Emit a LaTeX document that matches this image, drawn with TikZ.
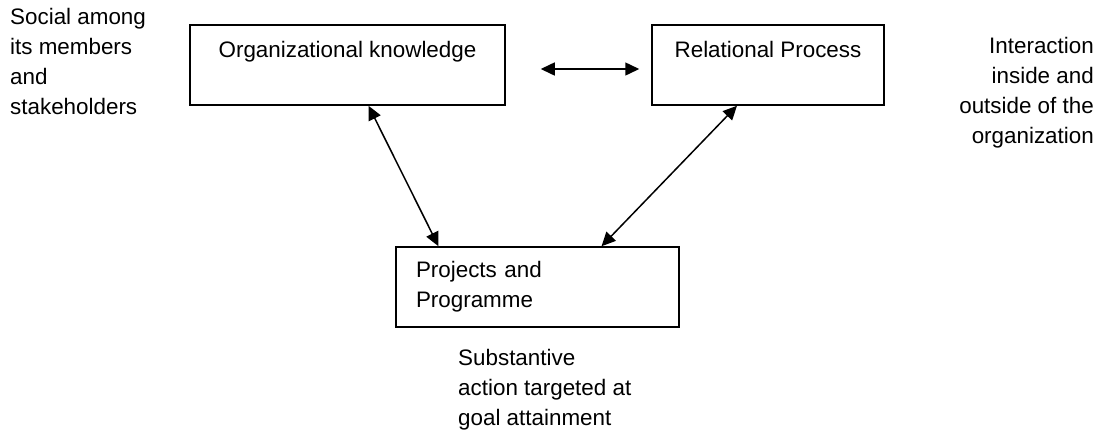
\documentclass[tikz,border=0pt]{standalone}
\usepackage{fontspec}
\setmainfont{Liberation Sans}
\usetikzlibrary{arrows.meta}

\begin{document}
\begin{tikzpicture}[x=1pt,y=-1pt,>={Triangle[length=14pt,width=13pt]},
every node/.style={font=\fontsize{22.4}{30}\selectfont},
doboz/.style={ rectangle,draw=black,line width=1.5pt,inner sep=0pt,
},
doboz-fent/.style={doboz,text height=32pt,text depth=48pt},
felirat/.style={inner sep=0pt}]

\useasboundingbox (0,0) rectangle (1101,432);

\pgfmathsetmacro{\felso}{65}

\node[doboz-fent,minimum width=315pt](knowledge) at (347.5,\felso){Organizational knowledge};

\node[doboz-fent,minimum width=232pt](relational) at (768,\felso){Relational Process};

\node[doboz,minimum height=80pt,text width=243pt,inner xsep=20pt,align=left](projects) at (537.5,287){Projects and\\
Programme};

\node[felirat,anchor=north west,align=left](social) at (10,8){Social among\\its members\\and\\stakeholders};

\node[felirat,anchor=north east,align=right](interaction) at (1094,37){Interaction\\inside and\\outside of the\\organization};

\node[felirat,anchor=north west,align=left](action) at (458,349){Substantive\\action targeted at\\goal attainment};

\begin{scope}[<->, line width=1.5pt]
\draw[shorten <=35pt, shorten >=12pt] ([yshift=-4pt]knowledge.east)--([yshift=-4pt]relational.west);
\draw ([xshift=21pt]knowledge.south)--([xshift=-99pt]projects.north);
\draw ([xshift=-31pt]relational.south)--([xshift=64pt]projects.north);
\end{scope}

\end{tikzpicture}
\end{document}
